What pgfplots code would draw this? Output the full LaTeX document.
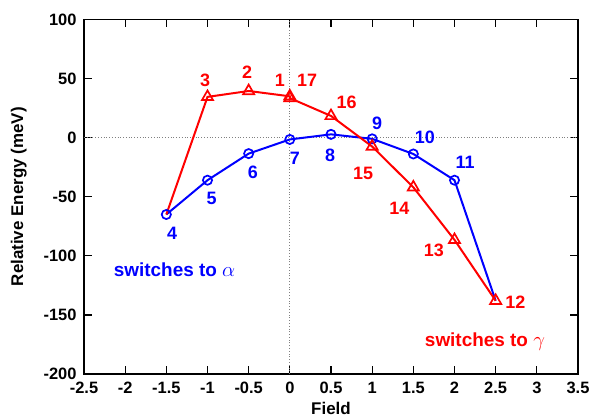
\documentclass[border=0pt]{standalone}
\usepackage{pgfplots}
\pgfplotsset{compat=1.18}
\usepackage{fontspec}
\setmainfont{Liberation Sans}

\definecolor{gpred}{RGB}{255,0,0}
\definecolor{gpblue}{RGB}{0,0,255}

\newcommand{\tickfont}{\fontsize{16.5}{18}\selectfont\bfseries}
\newcommand{\labfont}{\fontsize{17}{19}\selectfont\bfseries}
\newcommand{\numfont}{\fontsize{18}{20}\selectfont\bfseries}
\newcommand{\notefont}{\fontsize{19}{21}\selectfont\bfseries}
\newcommand{\greekfont}{\fontsize{22}{24}\selectfont}

\begin{document}
\begin{tikzpicture}[x=1bp,y=1bp]
\begin{axis}[
  scale only axis,
  width=494bp, height=354.5bp,
  at={(0,0)}, anchor=south west,
  xmin=-2.5, xmax=3.5, ymin=-200, ymax=100,
  xtick={-2.5,-2,...,3.5},
  ytick={-200,-150,...,100},
  tick align=inside,
  major tick length=8bp,
  axis line style={line width=1.5bp},
  tick style={line width=1.2bp, black},
  /pgf/number format/assume math mode=true,
  xticklabel style={font=\tickfont, yshift=-5bp},
  yticklabel style={font=\tickfont, xshift=-4bp},
  xlabel={Field},
  ylabel={Relative Energy (meV)},
  label style={font=\labfont},
  xlabel style={yshift=-1bp},
  ylabel style={yshift=10bp},
  clip=false,
]
  % zero reference lines
  \draw[gray, dotted, line width=0.8bp] (axis cs:-2.5,0) -- (axis cs:3.5,0);
  \draw[gray, dotted, line width=0.8bp] (axis cs:0,-200) -- (axis cs:0,100);

  % path ending in the alpha state
  \addplot[gpblue, line width=2bp, mark=o, mark size=4.6bp,
           mark options={line width=1.7bp}, mark indices={1,...,8}]
    coordinates {
      (-1.5,-65) (-1.0,-36) (-0.5,-13.5) (0.0,-1.5) (0.5,2.8)
      (1.0,-1.0) (1.5,-13.8) (2.0,-36) (2.5,-138)
    };

  % path ending in the gamma state
  \addplot[gpred, line width=2bp, mark=triangle, mark size=6.4bp,
           mark options={line width=1.7bp}, mark indices={2,...,11}]
    coordinates {
      (-1.5,-65) (-1.0,34.5) (-0.5,39.5) (0.0,35) (0.0,33.5) (0.5,18.4)
      (1.0,-7.5) (1.5,-42) (2.0,-86.5) (2.5,-138)
    };

  % configuration numbers
  \begin{scope}[every node/.style={font=\numfont, text=gpblue}]
    \node at (axis cs:-1.43,-80.6) {4};
    \node at (axis cs:-0.95,-51) {5};
    \node at (axis cs:-0.45,-29) {6};
    \node at (axis cs:0.06,-17.2) {7};
    \node at (axis cs:0.49,-14.6) {8};
    \node at (axis cs:1.06,12.4) {9};
    \node at (axis cs:1.64,0.6) {10};
    \node at (axis cs:2.13,-20.6) {11};
  \end{scope}
  \begin{scope}[every node/.style={font=\numfont, text=gpred}]
    \node at (axis cs:-1.03,48.8) {3};
    \node at (axis cs:-0.52,55.6) {2};
    \node at (axis cs:-0.12,48.8) {1};
    \node at (axis cs:0.21,48.8) {17};
    \node at (axis cs:0.69,30.2) {16};
    \node at (axis cs:0.89,-29.9) {15};
    \node at (axis cs:1.33,-59.5) {14};
    \node at (axis cs:1.75,-95) {13};
    \node at (axis cs:2.74,-139) {12};
  \end{scope}

  \node[font=\notefont, text=gpblue] at (axis cs:-1.40,-112) {switches to {\greekfont$\alpha$}};
  \node[font=\notefont, text=gpred] at (axis cs:2.37,-172.6) {switches to {\greekfont$\gamma$}};
\end{axis}
\pgfresetboundingbox
\path[use as bounding box] (-84bp,-46bp) rectangle (510bp,374bp);
\end{tikzpicture}
\end{document}
